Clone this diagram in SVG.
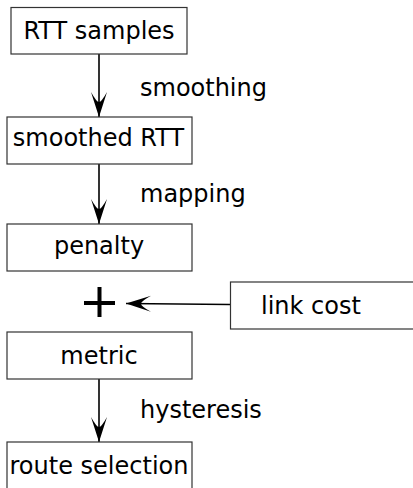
<svg xmlns="http://www.w3.org/2000/svg" width="413" height="488" viewBox="0 0 413 488">
<style>
.box{fill:#fff;stroke:#333;stroke-width:1.2}
.t{font-family:"DejaVu Sans",sans-serif;font-size:24px;fill:#000}
.c{text-anchor:middle}
.line{stroke:#000;stroke-width:1.6;fill:none}
</style>
<defs>
<marker id="ah" markerUnits="userSpaceOnUse" markerWidth="30" markerHeight="20" viewBox="-26 -10 28 20" refX="0" refY="0" orient="auto">
<path d="M0,0 L-25,-8 Q-15,-2.5 -15,0 Q-15,2.5 -25,8 Z" fill="#000"/>
</marker>
</defs>
<rect width="413" height="488" fill="#fff"/>
<g id="connectors">
<line class="line" x1="99" y1="54" x2="99" y2="117" marker-end="url(#ah)"/>
<line class="line" x1="99" y1="164" x2="99" y2="224" marker-end="url(#ah)"/>
<line class="line" x1="99" y1="379" x2="99" y2="442" marker-end="url(#ah)"/>
<line class="line" x1="230" y1="304.5" x2="126" y2="303.5" marker-end="url(#ah)"/>
<text class="t" x="140" y="96">smoothing</text>
<text class="t" x="140" y="202">mapping</text>
<text class="t" x="140" y="418">hysteresis</text>
</g>
<g id="rtt-samples">
<rect class="box" x="11" y="7.5" width="176" height="46.5"/>
<text class="t c" x="99" y="39">RTT samples</text>
</g>
<g id="smoothed-rtt">
<rect class="box" x="7" y="117" width="185" height="47"/>
<text class="t c" x="98.5" y="146">smoothed RTT</text>
</g>
<g id="penalty">
<rect class="box" x="7" y="224" width="185" height="47"/>
<text class="t c" x="99" y="254">penalty</text>
</g>
<g id="plus">
<line x1="84" y1="303" x2="115" y2="303" stroke="#000" stroke-width="4"/>
<line x1="99.5" y1="287" x2="99.5" y2="317" stroke="#000" stroke-width="4"/>
</g>
<g id="link-cost">
<rect class="box" x="230.5" y="282" width="190" height="47"/>
<text class="t" x="261" y="314">link cost</text>
</g>
<g id="metric">
<rect class="box" x="7" y="332" width="185" height="47"/>
<text class="t c" x="99" y="364">metric</text>
</g>
<g id="route-selection">
<rect class="box" x="7" y="442" width="185" height="50"/>
<text class="t c" x="99" y="474">route selection</text>
</g>
</svg>
